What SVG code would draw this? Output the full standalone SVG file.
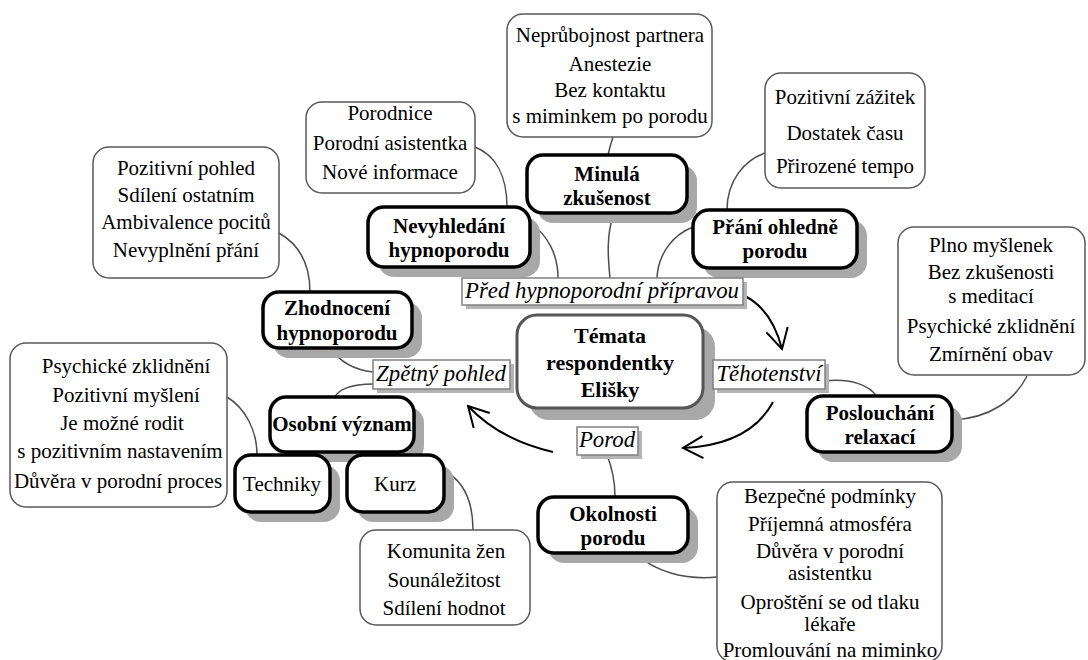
<svg xmlns="http://www.w3.org/2000/svg" width="1088" height="660" viewBox="0 0 1088 660" font-family="'Liberation Serif', 'DejaVu Serif', serif">
<defs>
<style>
text{font-family:'Liberation Serif','DejaVu Serif','Noto Serif',serif;text-anchor:middle;fill:#000}
.t{font-size:21px}
.tb{font-size:21px;font-weight:bold}
.tc{font-size:22px;font-weight:bold}
.ti{font-size:22.8px;font-style:italic}
.leaf{fill:#fff;stroke:#595959;stroke-width:1.5}
.bn{fill:#fff;stroke:#000;stroke-width:3.5}
.cn{fill:#fff;stroke:#555;stroke-width:3}
.sh{fill:#a8a8a8}
.lb{fill:#fff;stroke:#808080;stroke-width:1.5}
.lsh{fill:#b4b4b4}
.conn{fill:none;stroke:#4d4d4d;stroke-width:1.5}
.arr{fill:none;stroke:#000;stroke-width:2;marker-end:url(#ah)}
</style>
<marker id="ah" markerUnits="userSpaceOnUse" markerWidth="24" markerHeight="26" viewBox="0 0 24 26" refX="22" refY="13" orient="auto">
<path d="M2,2 L22,13 L2,24" fill="none" stroke="#000" stroke-width="2"/>
</marker>
</defs>
<rect width="1088" height="660" fill="#fff"/>

<g id="connectors">
<path class="conn" d="M613 137 Q610 146 608 155"/>
<path class="conn" d="M475 147 C495 155 507 175 507 207"/>
<path class="conn" d="M530 223 C548 235 558 255 558 278"/>
<path class="conn" d="M614 213 C606 235 608 258 610 278"/>
<path class="conn" d="M693 227 C672 235 658 255 657 278"/>
<path class="conn" d="M765 153 C745 160 727 180 727 210"/>
<path class="conn" d="M825 381 C850 378 870 385 877 397"/>
<path class="conn" d="M1027 376 C1015 400 990 418 953 420"/>
<path class="conn" d="M279 233 C300 245 310 265 310 292"/>
<path class="conn" d="M330 348 C340 362 355 370 373 372"/>
<path class="conn" d="M373 384 C350 384 338 390 335 397"/>
<path class="conn" d="M227 397 C245 408 257 430 257 455"/>
<path class="conn" d="M443 470 C463 480 473 500 473 530"/>
<path class="conn" d="M607 455 C613 470 615 483 615 497"/>
<path class="conn" d="M635 553 C655 572 685 580 717 577"/>
<path class="arr" d="M745 296 Q772 310 782 349"/>
<path class="arr" d="M773 402 Q750 445 683 448"/>
<path class="arr" d="M553 452 Q500 440 468 406"/>
</g>

<g id="n-neprubojnost">
<rect class="leaf" x="507" y="14" width="205" height="123" rx="16"/>
<text class="t" x="610" y="42">Neprůbojnost partnera</text>
<text class="t" x="610" y="71">Anestezie</text>
<text class="t" x="610" y="97">Bez kontaktu</text>
<text class="t" x="610" y="123">s miminkem po porodu</text>
</g>

<g id="n-porodnice">
<rect class="leaf" x="306" y="102" width="169" height="91" rx="16"/>
<text class="t" x="390" y="120">Porodnice</text>
<text class="t" x="390" y="150">Porodní asistentka</text>
<text class="t" x="390" y="179">Nové informace</text>
</g>

<g id="n-pozitivni-zazitek">
<rect class="leaf" x="765" y="73" width="160" height="115" rx="16"/>
<text class="t" x="845" y="104">Pozitivní zážitek</text>
<text class="t" x="845" y="140">Dostatek času</text>
<text class="t" x="845" y="173">Přirozené tempo</text>
</g>

<g id="n-pozitivni-pohled">
<rect class="leaf" x="93" y="147" width="186" height="131" rx="16"/>
<text class="t" x="186" y="175">Pozitivní pohled</text>
<text class="t" x="186" y="202">Sdílení ostatním</text>
<text class="t" x="186" y="229">Ambivalence pocitů</text>
<text class="t" x="186" y="257">Nevyplnění přání</text>
</g>

<g id="n-plno">
<rect class="leaf" x="898" y="227" width="187" height="148" rx="16"/>
<text class="t" x="991" y="252">Plno myšlenek</text>
<text class="t" x="991" y="279">Bez zkušenosti</text>
<text class="t" x="991" y="303">s meditací</text>
<text class="t" x="991" y="333">Psychické zklidnění</text>
<text class="t" x="991" y="361">Zmírnění obav</text>
</g>

<g id="n-psychicke">
<rect class="leaf" x="10" y="343" width="217" height="164" rx="16"/>
<text class="t" x="126" y="373">Psychické zklidnění</text>
<text class="t" x="126" y="402">Pozitivní myšlení</text>
<text class="t" x="122" y="430">Je možné rodit</text>
<text class="t" x="120" y="458">s pozitivním nastavením</text>
<text class="t" x="118" y="488">Důvěra v porodní proces</text>
</g>

<g id="n-komunita">
<rect class="leaf" x="360" y="530" width="170" height="95" rx="16"/>
<text class="t" x="446" y="558">Komunita žen</text>
<text class="t" x="444" y="587">Sounáležitost</text>
<text class="t" x="444" y="615">Sdílení hodnot</text>
</g>

<g id="n-bezpecne">
<rect class="leaf" x="717" y="482" width="225" height="180" rx="16"/>
<text class="t" x="830" y="503">Bezpečné podmínky</text>
<text class="t" x="830" y="531">Příjemná atmosféra</text>
<text class="t" x="830" y="558">Důvěra v porodní</text>
<text class="t" x="830" y="580">asistentku</text>
<text class="t" x="830" y="609">Oproštění se od tlaku</text>
<text class="t" x="830" y="631">lékaře</text>
<text class="t" x="830" y="657">Promlouvání na miminko</text>
</g>

<g id="n-minula">
<rect class="sh" x="537" y="165" width="160" height="58" rx="16"/>
<rect class="bn" x="527" y="155" width="160" height="58" rx="16"/>
<text class="tb" x="607" y="181">Minulá</text>
<text class="tb" x="607" y="205">zkušenost</text>
</g>

<g id="n-nevyhledani">
<rect class="sh" x="378" y="217" width="162" height="60" rx="16"/>
<rect class="bn" x="368" y="207" width="162" height="60" rx="16"/>
<text class="tb" x="449" y="233">Nevyhledání</text>
<text class="tb" x="449" y="257">hypnoporodu</text>
</g>

<g id="n-prani">
<rect class="sh" x="703" y="220" width="164" height="58" rx="16"/>
<rect class="bn" x="693" y="210" width="164" height="58" rx="16"/>
<text class="tb" x="775" y="234">Přání ohledně</text>
<text class="tb" x="775" y="258">porodu</text>
</g>

<g id="n-zhodnoceni">
<rect class="sh" x="273" y="302" width="149" height="56" rx="16"/>
<rect class="bn" x="263" y="292" width="149" height="56" rx="16"/>
<text class="tb" x="337" y="315">Zhodnocení</text>
<text class="tb" x="337" y="340">hypnoporodu</text>
</g>

<g id="n-center">
<rect class="sh" x="529" y="327" width="186" height="93" rx="20"/>
<rect class="cn" x="517" y="315" width="186" height="93" rx="20"/>
<text class="tc" x="610" y="343">Témata</text>
<text class="tc" x="610" y="370">respondentky</text>
<text class="tc" x="610" y="397">Elišky</text>
</g>

<g id="n-poslouchani">
<rect class="sh" x="817" y="406" width="145" height="56" rx="16"/>
<rect class="bn" x="807" y="396" width="145" height="56" rx="16"/>
<text class="tb" x="880" y="420">Poslouchání</text>
<text class="tb" x="880" y="444">relaxací</text>
</g>

<g id="n-osobni">
<rect class="sh" x="280" y="407" width="144" height="55" rx="16"/>
<rect class="bn" x="270" y="397" width="144" height="55" rx="16"/>
<text class="tb" x="342" y="431">Osobní význam</text>
</g>

<g id="n-techniky">
<rect class="sh" x="245" y="465" width="95" height="57" rx="16"/>
<rect class="bn" x="235" y="455" width="95" height="57" rx="16"/>
<text class="t" x="282" y="491">Techniky</text>
</g>

<g id="n-kurz">
<rect class="sh" x="357" y="465" width="97" height="57" rx="16"/>
<rect class="bn" x="347" y="455" width="97" height="57" rx="16"/>
<text class="t" x="395" y="491">Kurz</text>
</g>

<g id="n-okolnosti">
<rect class="sh" x="548" y="507" width="150" height="56" rx="16"/>
<rect class="bn" x="538" y="497" width="150" height="56" rx="16"/>
<text class="tb" x="613" y="521">Okolnosti</text>
<text class="tb" x="613" y="545">porodu</text>
</g>

<g id="l-pred">
<rect class="lsh" x="466" y="282" width="281" height="27"/>
<rect class="lb" x="462" y="278" width="281" height="27"/>
<text class="ti" x="602" y="298">Před hypnoporodní přípravou</text>
</g>

<g id="l-tehotenstvi">
<rect class="lsh" x="717" y="364" width="112" height="29"/>
<rect class="lb" x="713" y="360" width="112" height="29"/>
<text class="ti" x="769" y="381">Těhotenství</text>
</g>

<g id="l-porod">
<rect class="lsh" x="581" y="431" width="61" height="28"/>
<rect class="lb" x="577" y="427" width="61" height="28"/>
<text class="ti" x="607" y="447">Porod</text>
</g>

<g id="l-zpetny">
<rect class="lsh" x="377" y="364" width="137" height="29"/>
<rect class="lb" x="373" y="360" width="137" height="29"/>
<text class="ti" x="441" y="381">Zpětný pohled</text>
</g>
</svg>
